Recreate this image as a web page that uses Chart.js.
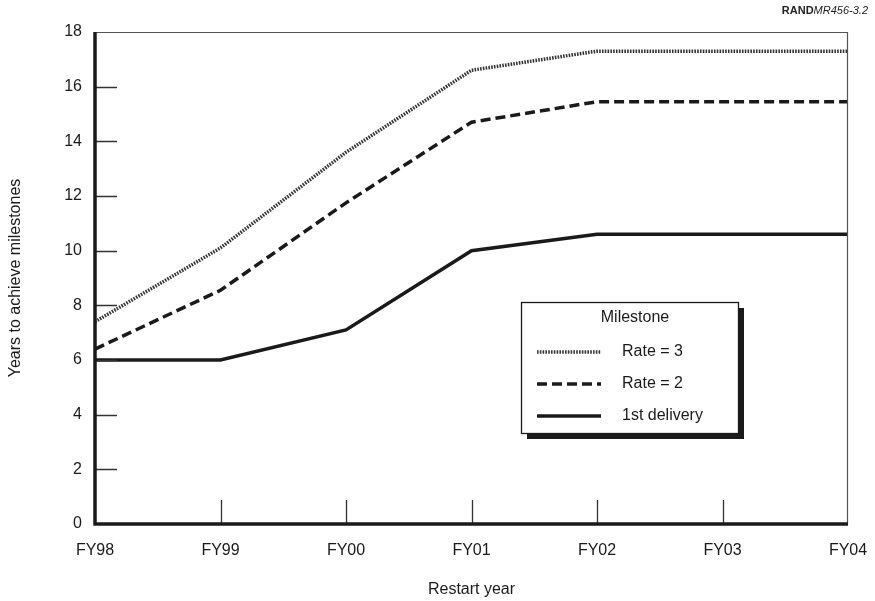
<!DOCTYPE html>
<html>
<head>
<meta charset="utf-8">
<script src="https://cdn.jsdelivr.net/npm/chart.js@4/dist/chart.umd.min.js"></script>
<style>
  html, body { margin: 0; padding: 0; background: #fff; }
  #wrap { position: relative; width: 875px; height: 601px; }
  #tag { position: absolute; right: 7px; top: 4px; font-family: "Liberation Sans", Arial, sans-serif; font-size: 11px; color: #222; }
  #tag b { font-weight: bold; }
  #tag i { font-style: italic; }
</style>
</head>
<body>
<div id="wrap">
  <canvas id="c" width="875" height="601"></canvas>
  <div id="tag"><b>RAND</b><i>MR456-3.2</i></div>
</div>
<script>
const categories = ["FY98", "FY99", "FY00", "FY01", "FY02", "FY03", "FY04"];
const rate3 = [7.4, 10.1, 13.6, 16.6, 17.3, 17.3, 17.3];
const rate2 = [6.4, 8.55, 11.75, 14.7, 15.45, 15.45, 15.45];
const firstDelivery = [6.0, 6.0, 7.1, 10.0, 10.6, 10.6, 10.6];
const seriesLabels = ["Rate = 3", "Rate = 2", "1st delivery"];
const legendTitle = "Milestone";
const yTitle = "Years to achieve milestones";
const xTitle = "Restart year";

const FONT = "'Liberation Sans', Arial, sans-serif";

const framePlugin = {
  id: 'frame',
  afterDraw(chart) {
    const ctx = chart.ctx;
    const x = chart.scales.x, y = chart.scales.y;
    const L = chart.chartArea.left, R = chart.chartArea.right, T = chart.chartArea.top, B = chart.chartArea.bottom;
    ctx.save();
    // top and right thin border
    ctx.strokeStyle = '#555';
    ctx.lineWidth = 1.2;
    ctx.beginPath();
    ctx.moveTo(L, T + 0.5); ctx.lineTo(R, T + 0.5);
    ctx.moveTo(R - 0.5, T); ctx.lineTo(R - 0.5, B);
    ctx.stroke();
    // y tick marks inside
    ctx.strokeStyle = '#333';
    ctx.lineWidth = 1.3;
    ctx.beginPath();
    y.ticks.forEach(t => {
      if (t.value <= y.min || t.value >= y.max) return;
      const py = Math.round(y.getPixelForValue(t.value)) + 0.5;
      ctx.moveTo(L, py); ctx.lineTo(L + 22, py);
    });
    // x tick marks inside
    categories.forEach((c, i) => {
      if (i === 0 || i === categories.length - 1) return;
      const px = Math.round(x.getPixelForValue(i)) + 0.5;
      ctx.moveTo(px, B); ctx.lineTo(px, B - 24);
    });
    ctx.stroke();
    // thick left and bottom axes
    ctx.strokeStyle = '#1a1a1a';
    ctx.lineWidth = 3.5;
    ctx.beginPath();
    ctx.moveTo(L, T); ctx.lineTo(L, B + 1.5);
    ctx.moveTo(L - 1.5, B); ctx.lineTo(R, B);
    ctx.stroke();

    // legend box
    const bx = 521, by = 302, bw = 217, bh = 131, sh = 6;
    ctx.fillStyle = '#1a1a1a';
    ctx.fillRect(bx + sh, by + sh, bw, bh);
    ctx.fillStyle = '#fff';
    ctx.fillRect(bx, by, bw, bh);
    ctx.strokeStyle = '#1a1a1a';
    ctx.lineWidth = 1.3;
    ctx.strokeRect(bx + 0.5, by + 0.5, bw, bh);
    ctx.fillStyle = '#1a1a1a';
    ctx.font = '16px ' + FONT;
    ctx.textAlign = 'center';
    ctx.textBaseline = 'middle';
    ctx.fillText(legendTitle, 635, 318);
    const rowsY = [352, 384, 416];
    chart.data.datasets.forEach((ds, i) => {
      const ry = rowsY[i];
      ctx.save();
      ctx.strokeStyle = ds.borderColor;
      ctx.lineWidth = ds.borderWidth;
      ctx.setLineDash(ds.borderDash || []);
      ctx.beginPath();
      ctx.moveTo(537, ry); ctx.lineTo(601, ry);
      ctx.stroke();
      ctx.restore();
      ctx.fillStyle = '#1a1a1a';
      ctx.textAlign = 'left';
      ctx.fillText(ds.label, 622, ry);
    });
    ctx.restore();
  }
};

new Chart(document.getElementById('c'), {
  type: 'line',
  data: {
    labels: categories,
    datasets: [
      { label: seriesLabels[0], data: rate3, borderColor: '#333', borderWidth: 3.5, borderDash: [1.6, 1.2], pointRadius: 0, tension: 0, fill: false },
      { label: seriesLabels[1], data: rate2, borderColor: '#1a1a1a', borderWidth: 3.5, borderDash: [10, 5], pointRadius: 0, tension: 0, fill: false },
      { label: seriesLabels[2], data: firstDelivery, borderColor: '#1a1a1a', borderWidth: 3.5, pointRadius: 0, tension: 0, fill: false }
    ]
  },
  options: {
    responsive: false,
    animation: false,
    devicePixelRatio: 1,
    layout: { padding: { left: 0, top: 32, right: 27, bottom: 0 } },
    plugins: { legend: { display: false }, tooltip: { enabled: false } },
    scales: {
      x: {
        type: 'category',
        offset: false,
        grid: { display: false, drawTicks: false },
        border: { display: false },
        ticks: { autoSkip: false, maxRotation: 0, padding: 17, color: '#1a1a1a', font: { family: FONT, size: 16 } },
        title: { display: true, text: xTitle, color: '#1a1a1a', font: { family: FONT, size: 16 }, padding: { top: 0, bottom: 2 } },
        afterFit(s) { s.height = 77; s.paddingLeft = 0; s.paddingRight = 0; }
      },
      y: {
        min: 0, max: 18,
        grid: { display: false, drawTicks: false },
        border: { display: false },
        ticks: { stepSize: 2, padding: 13, color: '#1a1a1a', font: { family: FONT, size: 16 } },
        title: { display: true, text: yTitle, color: '#1a1a1a', font: { family: FONT, size: 16 }, padding: { top: 6, bottom: 0 } },
        afterFit(s) { s.width = 95; s.paddingTop = 0; s.paddingBottom = 0; }
      }
    }
  },
  plugins: [framePlugin]
});
</script>
</body>
</html>
